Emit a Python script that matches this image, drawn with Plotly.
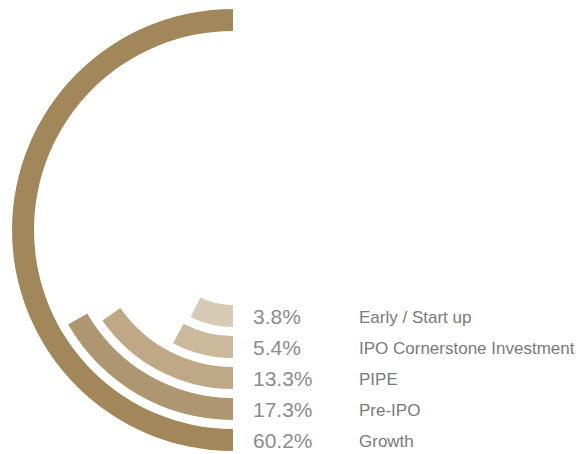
import plotly.graph_objects as go

# investment stage split (inner ring first)
stages = ["Early / Start up", "IPO Cornerstone Investment", "PIPE", "Pre-IPO", "Growth"]
shares = [3.8, 5.4, 13.3, 17.3, 60.2]
colors = ["#d8cbb5", "#cbb99c", "#bea886", "#ae9770", "#a2875a"]

# ring geometry (pixels, since the radial axis spans 0..222 px)
ring_start = 75
ring_step = 31
ring_w = 22
bases = [ring_start + i * ring_step for i in range(len(stages))]
mids = [b + ring_w / 2 for b in bases]
outers = [b + ring_w for b in bases]

# outer edge arc length is proportional to the share; the largest is a half circle
k = 180 * outers[-1] / max(shares)
sweeps = [k * s / o for s, o in zip(shares, outers)]

fig = go.Figure()
fig.add_trace(go.Barpolar(
    r=[ring_w] * len(stages),
    base=bases,
    theta=[w / 2 for w in sweeps],
    width=sweeps,
    marker=dict(color=colors, line=dict(width=0)),
    hoverinfo="skip",
))

# text rows, aligned with the end of each ring
font_family = "Liberation Sans, Arial, sans-serif"
text_dy = 2.5  # digits sit a little low in the reference
fig.add_trace(go.Scatter(
    x=[20] * len(stages), y=[m + text_dy for m in mids], mode="text",
    text=[f"{s}%" for s in shares], textposition="middle right",
    textfont=dict(family=font_family, size=21, color="#8c8c8c"),
    cliponaxis=False, hoverinfo="skip",
))
fig.add_trace(go.Scatter(
    x=[126] * len(stages), y=[m + text_dy for m in mids], mode="text",
    text=stages, textposition="middle right",
    textfont=dict(family=font_family, size=17, color="#7a7a7a"),
    cliponaxis=False, hoverinfo="skip",
))

fig.update_layout(
    width=581, height=454,
    margin=dict(l=0, r=0, t=0, b=0),
    paper_bgcolor="white", plot_bgcolor="rgba(0,0,0,0)",
    showlegend=False,
    polar=dict(
        domain=dict(x=[11 / 581, 455 / 581], y=[1 - 452 / 454, 1 - 8 / 454]),
        bgcolor="rgba(0,0,0,0)",
        radialaxis=dict(range=[0, 222], visible=False, showgrid=False),
        angularaxis=dict(rotation=270, direction="clockwise", visible=False, showgrid=False),
        bargap=0,
    ),
    xaxis=dict(domain=[0, 1], range=[-233, 348], visible=False, fixedrange=True),
    yaxis=dict(domain=[0, 1], range=[224, -230], visible=False, fixedrange=True),
)

# page body has a default 8px margin; drop it so the chart sits at the window corner
fig.write_html("out.html", config={"displayModeBar": False},
               post_script="document.body.style.margin='0';")
